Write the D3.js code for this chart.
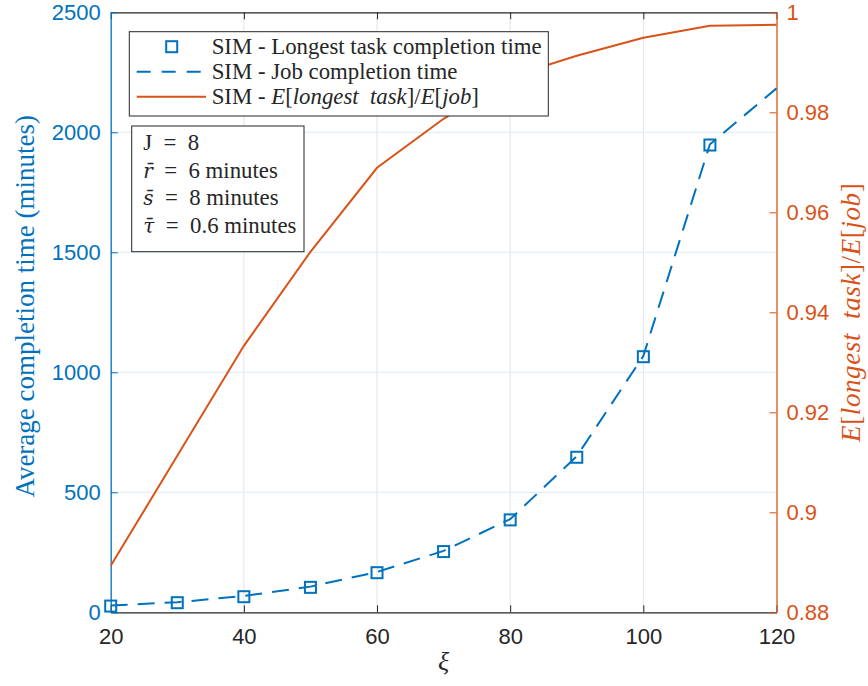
<!DOCTYPE html>
<html>
<head>
<meta charset="utf-8">
<script src="https://cdn.jsdelivr.net/npm/d3@7"></script>
<style>
  body { margin: 0; background: #fff; }
  svg { display: block; }
  .tick text { font-family: "Liberation Sans", Arial, sans-serif; font-size: 22px; }
  .serif { font-family: "Liberation Serif", "Times New Roman", serif; }
</style>
</head>
<body>
<svg width="868" height="686"></svg>
<script>
// xi values (x axis)
var xi = [20, 30, 40, 50, 60, 70, 80, 90, 100, 110, 120];
// SIM - longest task completion time (markers, minutes), xi = 20..110
var longestTask = [26, 40, 65, 104, 165, 253, 385, 646, 1065, 1947];
// SIM - job completion time (dashed line, minutes)
var jobTime = [28, 42, 68, 107, 168, 256, 388, 650, 1068, 1950, 2183];
// SIM - E[longest task]/E[job] (right axis)
var ratio = [0.8893, 0.9113, 0.9333, 0.9521, 0.9689, 0.9787, 0.9871, 0.9913, 0.9949, 0.9973, 0.9975];

var xTicks = [20, 40, 60, 80, 100, 120];
var leftTicks = [0, 500, 1000, 1500, 2000, 2500];
var rightTicks = [0.88, 0.9, 0.92, 0.94, 0.96, 0.98, 1];

var blue = "#0072BD", orange = "#D95319", dark = "#262626";

var svg = d3.select("svg"),
    pL = 110.7, pR = 776.5, pT = 12.3, pB = 612.3;

var x = d3.scaleLinear().domain([20, 120]).range([pL, pR]);
var yL = d3.scaleLinear().domain([0, 2500]).range([pB, pT]);
var yR = d3.scaleLinear().domain([0.88, 1]).range([pB, pT]);

// grid lines
svg.append("g").selectAll("line")
    .data(xTicks.slice(1, -1))
    .enter().append("line")
    .attr("x1", d => x(d)).attr("x2", d => x(d))
    .attr("y1", pT).attr("y2", pB)
    .attr("stroke", "#e3e3e3").attr("stroke-width", 1);

svg.append("g").selectAll("line")
    .data(leftTicks.slice(1, -1))
    .enter().append("line")
    .attr("x1", pL).attr("x2", pR)
    .attr("y1", d => yL(d)).attr("y2", d => yL(d))
    .attr("stroke", "#dcebf7").attr("stroke-width", 1);

// axes (ticks pointing inward)
var gx = svg.append("g").attr("transform", "translate(0," + pB + ")")
    .call(d3.axisBottom(x).tickValues(xTicks).tickSizeInner(-7).tickSizeOuter(0).tickPadding(16));
gx.select(".domain").attr("stroke", dark).attr("stroke-width", 1.3);
gx.selectAll(".tick line").attr("stroke", dark);
gx.selectAll(".tick text").attr("fill", dark);

var gt = svg.append("g").attr("transform", "translate(0," + pT + ")")
    .call(d3.axisTop(x).tickValues(xTicks).tickSizeInner(-7).tickSizeOuter(0).tickFormat(""));
gt.select(".domain").attr("stroke", dark).attr("stroke-width", 1.3);
gt.selectAll(".tick line").attr("stroke", dark);

var gl = svg.append("g").attr("transform", "translate(" + pL + ",0)")
    .call(d3.axisLeft(yL).tickValues(leftTicks).tickSizeInner(-7).tickSizeOuter(0).tickPadding(10)
      .tickFormat(d3.format("d")));
gl.select(".domain").attr("stroke", blue).attr("stroke-width", 1.3);
gl.selectAll(".tick line").attr("stroke", blue);
gl.selectAll(".tick text").attr("fill", blue);

var gr = svg.append("g").attr("transform", "translate(" + pR + ",0)")
    .call(d3.axisRight(yR).tickValues(rightTicks).tickSizeInner(-7).tickSizeOuter(0).tickPadding(10)
      .tickFormat(d3.format("~g")));
gr.select(".domain").attr("stroke", orange).attr("stroke-width", 1.3);
gr.selectAll(".tick line").attr("stroke", orange);
gr.selectAll(".tick text").attr("fill", orange);

// orange ratio line
svg.append("path")
    .datum(ratio)
    .attr("fill", "none").attr("stroke", orange).attr("stroke-width", 2)
    .attr("d", d3.line().x((d, i) => x(xi[i])).y(d => yR(d)));

// blue dashed job line
svg.append("path")
    .datum(jobTime)
    .attr("fill", "none").attr("stroke", blue).attr("stroke-width", 2)
    .attr("stroke-dasharray", "17,10")
    .attr("d", d3.line().x((d, i) => x(xi[i])).y(d => yL(d)));

// square markers
svg.append("g").selectAll("rect")
    .data(longestTask)
    .enter().append("rect")
    .attr("x", (d, i) => x(xi[i]) - 5.5).attr("y", d => yL(d) - 5.5)
    .attr("width", 11).attr("height", 11)
    .attr("fill", "none").attr("stroke", blue).attr("stroke-width", 2);

// axis labels
svg.append("text").attr("class", "serif")
    .attr("transform", "translate(34," + ((pT + pB) / 2 - 6) + ") rotate(-90)")
    .attr("text-anchor", "middle").attr("fill", blue).attr("font-size", 27)
    .text("Average completion time (minutes)");

svg.append("text").attr("class", "serif")
    .attr("x", (pL + pR) / 2).attr("y", 670)
    .attr("text-anchor", "middle").attr("fill", dark).attr("font-size", 26)
    .attr("font-style", "italic")
    .text("ξ");

var rl = svg.append("text").attr("class", "serif")
    .attr("transform", "translate(860," + ((pT + pB) / 2) + ") rotate(-90)")
    .attr("text-anchor", "middle").attr("fill", orange).attr("font-size", 27)
    .attr("letter-spacing", 0.6);
rl.append("tspan").attr("font-style", "italic").text("E");
rl.append("tspan").text("[");
rl.append("tspan").attr("font-style", "italic").text("longest\u2002task");
rl.append("tspan").text("]/");
rl.append("tspan").attr("font-style", "italic").text("E");
rl.append("tspan").text("[");
rl.append("tspan").attr("font-style", "italic").text("job");
rl.append("tspan").text("]");

// legend
var lg = svg.append("g");
lg.append("rect")
    .attr("x", 129.3).attr("y", 31.7).attr("width", 419).attr("height", 84.3)
    .attr("fill", "#fff").attr("stroke", dark).attr("stroke-width", 1);
var rowY = [46.7, 71.7, 96.7];
lg.append("rect")
    .attr("x", 171.7 - 5.5).attr("y", rowY[0] - 5.5).attr("width", 11).attr("height", 11)
    .attr("fill", "none").attr("stroke", blue).attr("stroke-width", 2);
lg.append("line")
    .attr("x1", 136.7).attr("x2", 206).attr("y1", rowY[1]).attr("y2", rowY[1])
    .attr("stroke", blue).attr("stroke-width", 2).attr("stroke-dasharray", "14,11");
lg.append("line")
    .attr("x1", 136.7).attr("x2", 206).attr("y1", rowY[2]).attr("y2", rowY[2])
    .attr("stroke", orange).attr("stroke-width", 2);
lg.append("text").attr("class", "serif").attr("x", 211.7).attr("y", rowY[0] + 7)
    .attr("font-size", 22.8).attr("fill", dark).text("SIM - Longest task completion time");
lg.append("text").attr("class", "serif").attr("x", 211.7).attr("y", rowY[1] + 7)
    .attr("font-size", 22.8).attr("fill", dark).text("SIM - Job completion time");
var t3 = lg.append("text").attr("class", "serif").attr("x", 211.7).attr("y", rowY[2] + 7)
    .attr("font-size", 22.8).attr("fill", dark);
t3.append("tspan").text("SIM - ");
t3.append("tspan").attr("font-style", "italic").text("E");
t3.append("tspan").text("[");
t3.append("tspan").attr("font-style", "italic").text("longest\u2002task");
t3.append("tspan").text("]/");
t3.append("tspan").attr("font-style", "italic").text("E");
t3.append("tspan").text("[");
t3.append("tspan").attr("font-style", "italic").text("job");
t3.append("tspan").text("]");

// parameter box
var pb = svg.append("g");
pb.append("rect")
    .attr("x", 131.7).attr("y", 126).attr("width", 172.3).attr("height", 125.7)
    .attr("fill", "#fff").attr("stroke", dark).attr("stroke-width", 1);
var params = [["J", false, "\u2002=\u20028"], ["r\u0304", true, "\u2002=\u20026 minutes"],
              ["s\u0304", true, "\u2002=\u20028 minutes"], ["\u03C4\u0304", true, "\u2002=\u20020.6 minutes"]];
var pY = [143.3, 171, 198.3, 226];
params.forEach(function(p, i) {
    var t = pb.append("text").attr("class", "serif").attr("x", 143.3).attr("y", pY[i] + 7)
        .attr("font-size", 22.8).attr("fill", dark);
    t.append("tspan").attr("font-style", p[1] ? "italic" : "normal")
        .style("font-family", p[1] ? "'DejaVu Serif', serif" : null)
        .attr("font-size", p[1] ? 20 : null).text(p[0]);
    t.append("tspan").text(p[2]);
});
</script>
</body>
</html>
